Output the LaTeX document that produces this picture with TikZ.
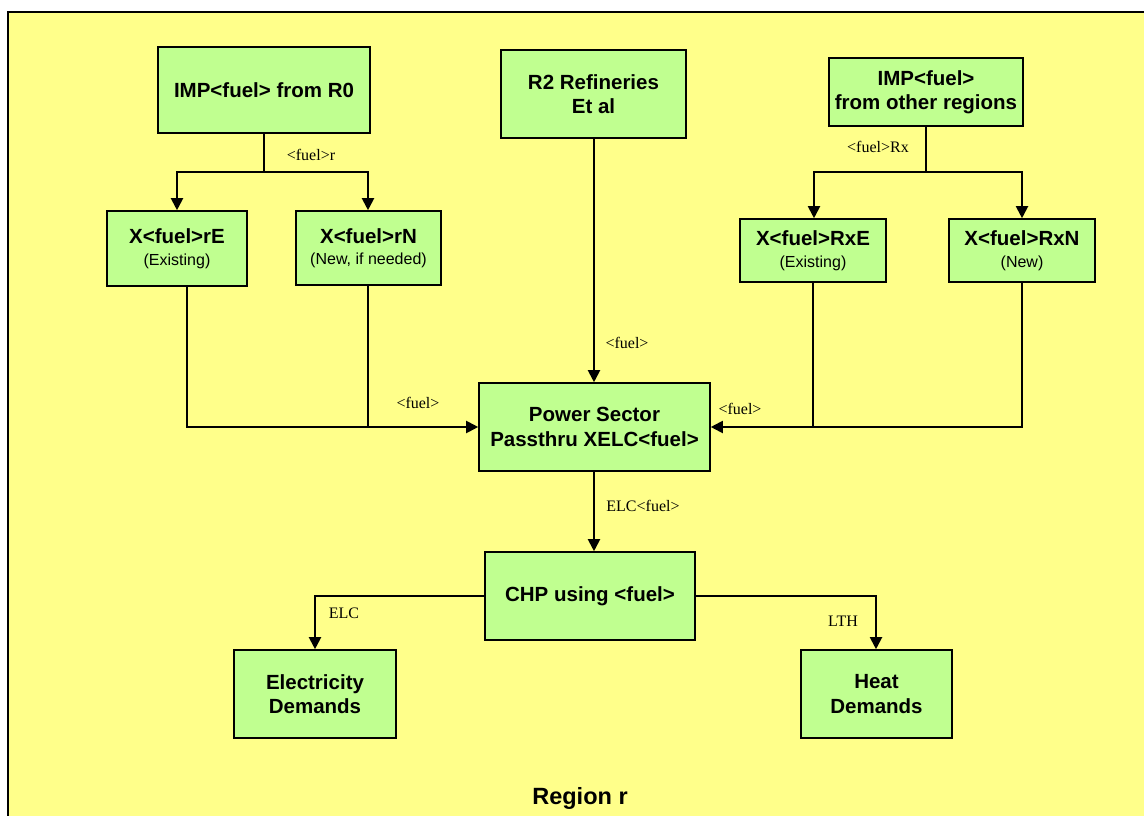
\documentclass[tikz,border=0pt]{standalone}
\usepackage{fontspec}
\setmainfont{Liberation Serif}
\setsansfont{Liberation Sans}
\usetikzlibrary{arrows.meta}
\definecolor{regionyellow}{RGB}{255,255,138}
\definecolor{boxgreen}{RGB}{192,255,144}
\tikzset{
  proc/.style={draw=black, line width=1.6pt, fill=boxgreen, inner sep=0pt,
    font=\sffamily\bfseries\fontsize{20.5}{24.5}\selectfont, align=center},
  flow/.style={line width=2pt, -{Triangle[width=12pt,length=12pt]}},
  link/.style={line width=2pt},
  flowlabel/.style={font=\rmfamily\fontsize{16}{18}\selectfont, inner sep=0pt}
}
\newcommand{\subline}[1]{{\sffamily\mdseries\fontsize{16}{18}\selectfont #1}}
\newcommand{\boxat}[6]{% name, x1, y1, x2, y2, text
  \node[proc, minimum width={#4-#2}, minimum height={#5-#3}] (#1) at ({(#2+#4)/2},{(#3+#5)/2}) {#6};}
\begin{document}
\begin{tikzpicture}[x=1pt, y=-1pt]
  \useasboundingbox (0,0) rectangle (1144,816);
  \fill[white] (0,0) rectangle (1144,816);
  % region frame, running off the right and bottom edges
  \begin{scope}
    \clip (0,0) rectangle (1144,816);
    \draw[line width=2.2pt, fill=regionyellow] (8,12) rectangle (1160,830);
  \end{scope}

  % process boxes
  \boxat{impr}{158}{47}{370}{133}{IMP<fuel> from R0}
  \boxat{xre}{107}{211}{247}{286}{X<fuel>rE\\[-3pt]\subline{(Existing)}}
  \boxat{xrn}{296}{211}{441}{285}{X<fuel>rN\\[-3pt]\subline{(New, if needed)}}
  \boxat{refin}{501}{50}{686}{138}{R2 Refineries\\Et al}
  \boxat{impx}{829}{58}{1023}{126}{IMP<fuel>\\from other regions}
  \boxat{xrxe}{740}{219}{886}{282}{X<fuel>RxE\\[-3pt]\subline{(Existing)}}
  \boxat{xrxn}{949}{219}{1095}{282}{X<fuel>RxN\\[-3pt]\subline{(New)}}
  \boxat{power}{479}{383}{710}{471}{Power Sector\\Passthru XELC<fuel>}
  \boxat{chp}{485}{552}{695}{640}{CHP using <fuel>}
  \boxat{elec}{234}{650}{396}{738}{Electricity\\Demands}
  \boxat{heat}{801}{650}{952}{738}{Heat\\Demands}

  % branch points
  \coordinate (splitr) at (264,172);
  \coordinate (splitx) at (926,172);
  \coordinate (joinl) at (368,427);
  \coordinate (joinr) at (813,427);

  % imports from R0
  \draw[link] (impr.south) -- (splitr);
  \draw[flow] (splitr) -| (xre.north -| 177,0);
  \draw[flow] (splitr) -| (xrn.north -| 368,0);
  \node[flowlabel] at (311,155) {<fuel>r};

  % imports from other regions
  \draw[link] (impx.south) -- (splitx);
  \draw[flow] (splitx) -| (xrxe.north -| 814,0);
  \draw[flow] (splitx) -| (xrxn.north -| 1022,0);
  \node[flowlabel] at (878,147) {<fuel>Rx};

  % refinery supply
  \draw[flow] (refin.south -| 594,0) -- (power.north -| 594,0);
  \node[flowlabel] at (627,343) {<fuel>};

  % left-hand feeders into the power sector
  \draw[link] (xre.south -| 187,0) |- (joinl);
  \draw[link] (xrn.south -| 368,0) -- (joinl);
  \draw[flow] (joinl) -- (power.west |- joinl);
  \node[flowlabel] at (418,403) {<fuel>};

  % right-hand feeders into the power sector
  \draw[link] (xrxn.south -| 1022,0) |- (joinr);
  \draw[link] (xrxe.south -| 813,0) -- (joinr);
  \draw[flow] (joinr) -- (power.east |- joinr);
  \node[flowlabel] at (740,409) {<fuel>};

  % power sector to CHP
  \draw[flow] (power.south -| 594,0) -- (chp.north -| 594,0);
  \node[flowlabel] at (643,506) {ELC<fuel>};

  % CHP outputs
  \draw[flow] (chp.west |- 0,596) -| (elec.north -| 315,0);
  \node[flowlabel] at (344,613) {ELC};
  \draw[flow] (chp.east |- 0,596) -| (heat.north -| 876,0);
  \node[flowlabel] at (843,621) {LTH};

  % region caption
  \node[font=\sffamily\bfseries\fontsize{23.5}{26}\selectfont] (caption) at (580,798) {Region r};
\end{tikzpicture}
\end{document}
